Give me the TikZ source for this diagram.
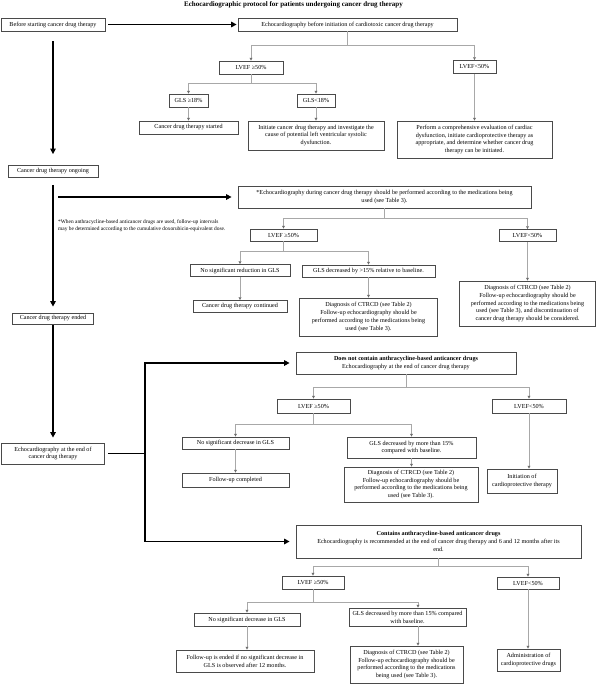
\documentclass[tikz,border=0pt]{standalone}
\usepackage{fontspec}
\setmainfont{Liberation Serif}
\usetikzlibrary{arrows.meta}
\definecolor{boxc}{HTML}{4A4A4A}
\definecolor{connc}{HTML}{A8A8A8}
\definecolor{arrc}{HTML}{6E6E6E}
\newcommand\myfs{\fontsize{6.15}{7.9}\selectfont}
\newcommand\mybox[6]{\node[box,minimum width=#4pt,minimum height=#5pt] (#1) at (#2,#3) {#6};}
\begin{document}
\begin{tikzpicture}[x=1pt,y=-1pt,
  box/.style={draw=boxc,line width=0.8pt,inner sep=0pt,align=center,font=\myfs,fill=white},
  conn/.style={draw=connc,line width=0.7pt},
  carr/.style={draw=connc,line width=0.7pt,-{Triangle[length=2.8pt,width=2.8pt,color=arrc]}},
  thk/.style={draw=black,line width=1.8pt,-{Triangle[length=5.5pt,width=5.5pt]}},
  thkl/.style={draw=black,line width=1.8pt}]
\useasboundingbox (0,0) rectangle (598,685);
\node[font=\bfseries\fontsize{7}{8}\selectfont,inner sep=0pt] (title) at (293.5,5) {Echocardiographic protocol for patients undergoing cancer drug therapy};

\mybox{B1}{53}{24.5}{104}{13}{Before starting cancer drug therapy}
\mybox{E1}{347.5}{24.5}{219}{13}{Echocardiography before initiation of cardiotoxic cancer drug therapy}
\mybox{L1a}{251}{67.5}{64}{13}{LVEF ≥50\%}
\mybox{L1b}{474.5}{67}{43}{13}{LVEF<50\%}
\mybox{G1a}{188.5}{100.5}{39}{13}{GLS ≥18\%}
\mybox{G1b}{316}{100.5}{38}{13}{GLS<18\%}
\mybox{S1}{188.5}{127.5}{99}{13}{Cancer drug therapy started}
\mybox{I1}{316}{135.5}{136}{29}{Initiate cancer drug therapy and investigate the\\cause of potential left ventricular systolic\\dysfunction.}
\mybox{P1}{474.5}{139.5}{155}{37}{Perform a comprehensive evaluation of cardiac\\dysfunction, initiate cardioprotective therapy as\\appropriate, and determine whether cancer drug\\therapy can be initiated.}

\mybox{O2}{53}{171.5}{90}{12}{Cancer drug therapy ongoing}
\mybox{E2}{384.5}{197}{293}{22}{*Echocardiography during cancer drug therapy should be performed according to the medications being\\used (see Table 3).}
\mybox{L2a}{283.5}{235}{67}{12}{LVEF ≥50\%}
\mybox{L2b}{527.5}{235.5}{57}{12}{LVEF<50\%}
\mybox{N2}{240}{270.5}{100}{12}{No significant reduction in GLS}
\mybox{D2}{368.5}{271}{133}{12}{GLS decreased by >15\% relative to baseline.}
\mybox{C2}{240}{306.5}{94}{12}{Cancer drug therapy continued}
\mybox{X2}{368.5}{317}{138}{38}{Diagnosis of CTRCD (see Table 2)\\Follow-up echocardiography should be\\performed according to the medications being\\used (see Table 3).}
\mybox{Y2}{527.5}{303.5}{136}{45}{Diagnosis of CTRCD (see Table 2)\\Follow-up echocardiography should be\\performed according to the medications being\\used (see Table 3), and discontinuation of\\cancer drug therapy should be considered.}
\node[anchor=north west,align=left,inner sep=0pt,font=\fontsize{5.4}{7}\selectfont] (fn) at (58,219) {*When anthracycline-based anticancer drugs are used, follow-up intervals\\may be determined according to the cumulative doxorubicin-equivalent dose.};

\mybox{End3}{53}{318.5}{81}{11}{Cancer drug therapy ended}
\mybox{EE}{53}{453.5}{103}{21}{Echocardiography at the end of\\cancer drug therapy}
\mybox{DN}{406}{363}{220}{22}{\textbf{Does not contain anthracycline-based anticancer drugs}\\Echocardiography at the end of cancer drug therapy}
\mybox{L3a}{313.5}{406}{73}{14}{LVEF ≥50\%}
\mybox{L3b}{529}{406}{74}{14}{LVEF<50\%}
\mybox{N3}{235.5}{443}{107}{12}{No significant decrease in GLS}
\mybox{G3}{411.5}{447.5}{129}{21}{GLS decreased by more than 15\%\\compared with baseline.}
\mybox{F3}{235.5}{480}{107}{14}{Follow-up completed}
\mybox{X3}{411}{484.5}{134}{35}{Diagnosis of CTRCD (see Table 2)\\Follow-up echocardiography should be\\performed according to the medications being\\used (see Table 3).}
\mybox{I3}{522}{481}{70}{24}{Initiation of\\cardioprotective therapy}

\mybox{CT}{438.5}{541.5}{285}{33}{\textbf{Contains anthracycline-based anticancer drugs}\\Echocardiography is recommended at the end of cancer drug therapy and 6 and 12 months after its\\end.}
\mybox{L4a}{313}{582.5}{62}{13}{LVEF ≥50\%}
\mybox{L4b}{528}{583}{62}{12}{LVEF<50\%}
\mybox{N4}{247}{619.5}{106}{13}{No significant decrease in GLS}
\mybox{G4}{407.5}{617}{117}{18}{GLS decreased by more than 15\% compared\\with baseline.}
\mybox{F4}{245}{661}{138}{22}{Follow-up is ended if no significant decrease in\\GLS is observed after 12 months.}
\mybox{X4}{406.5}{664.5}{113}{37}{Diagnosis of CTRCD (see Table 2)\\Follow-up echocardiography should be\\performed according to the medications\\being used (see Table 3).}
\mybox{AD}{528.5}{660}{63}{22}{Administration of\\cardioprotective drugs}

% thick flow arrows
\draw[thk] ([xshift=3pt]B1.east) -- ([xshift=-1pt]E1.west);
\draw[thk] ([yshift=-10pt]B1.south) -- ([yshift=11pt]O2.north);
\draw[thk] ([yshift=-7pt]O2.south) -- ([yshift=6pt]End3.north);
\coordinate (fs) at (58,197);
\draw[thk] (fs) -- ([xshift=-6pt]E2.west);
\draw[thk] ([yshift=-1pt]End3.south) -- ([yshift=5pt]EE.north);
\coordinate (jn) at (145,453.5);
\draw[thkl,line cap=rect] ([xshift=4pt]EE.east) -- (jn);
\draw[thk] (jn) |- ([xshift=-6pt]DN.west);
\draw[thk] (jn) |- ([xshift=-6pt]CT.west);

% gray tree connectors
\coordinate (b1) at (0,45);
\draw[conn] (E1.south) -- (E1.south |- b1);
\draw[conn] (L1a.north |- b1) -- (L1b.north |- b1);
\draw[carr] (L1a.north |- b1) -- (L1a.north);
\draw[carr] (L1b.north |- b1) -- (L1b.north);
\coordinate (b2) at (0,83);
\draw[conn] (L1a.south) -- (L1a.south |- b2);
\draw[conn] (G1a.north |- b2) -- (G1b.north |- b2);
\draw[carr] (G1a.north |- b2) -- (G1a.north);
\draw[carr] (G1b.north |- b2) -- (G1b.north);
\draw[carr] (G1a.south) -- (G1a.south |- S1.north);
\draw[carr] (G1b.south) -- (G1b.south |- I1.north);
\draw[carr] (L1b.south) -- (L1b.south |- P1.north);

\coordinate (b3) at (0,218);
\draw[conn] (E2.south) -- (E2.south |- b3);
\draw[conn] (L2a.north |- b3) -- (L2b.north |- b3);
\draw[carr] (L2a.north |- b3) -- (L2a.north);
\draw[carr] (L2b.north |- b3) -- (L2b.north);
\coordinate (b4) at (0,251);
\draw[conn] (L2a.south) -- (L2a.south |- b4);
\draw[conn] (N2.north |- b4) -- (D2.north |- b4);
\draw[carr] (N2.north |- b4) -- (N2.north);
\draw[carr] (D2.north |- b4) -- (D2.north);
\draw[carr] (N2.south) -- (N2.south |- C2.north);
\draw[carr] (D2.south) -- (D2.south |- X2.north);
\draw[carr] (L2b.south) -- (L2b.south |- Y2.north);

\coordinate (b5) at (0,387);
\draw[conn] (DN.south) -- (DN.south |- b5);
\draw[conn] (L3a.north |- b5) -- (L3b.north |- b5);
\draw[carr] (L3a.north |- b5) -- (L3a.north);
\draw[carr] (L3b.north |- b5) -- (L3b.north);
\coordinate (b6) at (0,424);
\draw[conn] (L3a.south) -- (L3a.south |- b6);
\draw[conn] (N3.north |- b6) -- (G3.north |- b6);
\draw[carr] (N3.north |- b6) -- (N3.north);
\draw[carr] (G3.north |- b6) -- (G3.north);
\draw[carr] (N3.south) -- (N3.south |- F3.north);
\draw[carr] (G3.south) -- (G3.south |- X3.north);
\draw[carr] (L3b.south) -- (L3b.south |- I3.north);

\coordinate (b7) at (0,566);
\draw[conn] (CT.south) -- (CT.south |- b7);
\draw[conn] (L4a.north |- b7) -- (L4b.north |- b7);
\draw[carr] (L4a.north |- b7) -- (L4a.north);
\draw[carr] (L4b.north |- b7) -- (L4b.north);
\coordinate (b8) at (0,602);
\coordinate (g4x) at (418,0);
\draw[conn] (L4a.south) -- (L4a.south |- b8);
\draw[conn] (N4.north |- b8) -- (g4x |- b8);
\draw[carr] (N4.north |- b8) -- (N4.north);
\draw[carr] (g4x |- b8) -- (g4x |- G4.north);
\draw[carr] (N4.south) -- (N4.south |- F4.north);
\draw[carr] (g4x |- G4.south) -- (g4x |- X4.north);
\draw[carr] (L4b.south) -- (L4b.south |- AD.north);
\end{tikzpicture}
\end{document}
